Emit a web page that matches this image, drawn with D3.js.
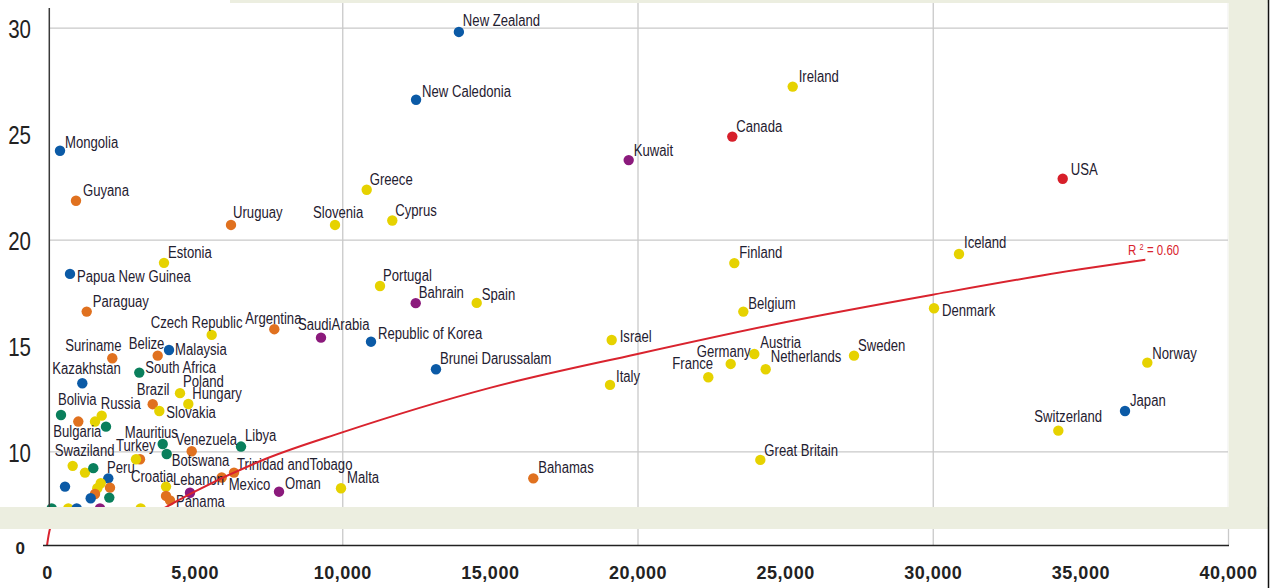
<!DOCTYPE html>
<html><head><meta charset="utf-8">
<script src="https://cdn.jsdelivr.net/npm/d3@7"></script>
<style>
html,body{margin:0;padding:0;background:#fff;}
svg{display:block;}
</style></head>
<body>
<svg id="chart" width="1274" height="588"></svg>
<script>
// ---------------- DATA ----------------
const countries = ["New Zealand","New Caledonia","Mongolia","Guyana","Ireland","Canada","Kuwait","USA","Greece","Uruguay","Slovenia","Cyprus","Estonia","Papua New Guinea","Finland","Iceland","Portugal","Bahrain","Spain","Paraguay","Belgium","Denmark","Czech Republic","Argentina","SaudiArabia","Republic of Korea","Brunei Darussalam","Israel","Italy","France","Germany","Austria","Netherlands","Sweden","Great Britain","Norway","Switzerland","Japan","Bahamas","Malta","Suriname","Belize","Malaysia","Kazakhstan","South Africa","Poland","Hungary","Brazil","Slovakia","Bolivia","Russia","","Bulgaria","","Mauritius","Botswana","Venezuela","Libya","Turkey","","Swaziland","","","","","Peru","","","","","","Croatia","","Panama","Lebanon","Mexico","Trinidad andTobago","Oman","","","","",""];
const gdp = [13950,12500,440,982,25257,23211,19702,34402,10828,6232,9755,11695,3963,779,23279,30889,11279,12488,14554,1345,23584,30043,5578,7699,9280,10974,13175,19126,19069,22398,23157,23956,24342,27333,24160,37267,34253,36512,16471,9958,2212,3749,4132,1196,3126,4505,4786,3580,3804,474,1853,1626,1060,1998,3919,4054,4901,6571,3150,3014,870,1287,1568,2076,1819,2134,1704,1626,1480,2110,610,4031,4031,4166,4843,5917,6334,7858,159,721,1006,1795,3174];
const rate = [29.8,26.6,24.19,21.83,27.22,24.86,23.75,22.87,22.35,20.69,20.69,20.9,18.9,18.38,18.89,19.32,17.81,17.0,17.01,16.6,16.6,16.76,15.5,15.77,15.37,15.18,13.88,15.26,13.14,13.5,14.13,14.6,13.88,14.52,9.6,14.19,10.98,11.91,8.73,8.26,14.4,14.52,14.79,13.22,13.72,12.75,12.24,12.23,11.91,11.72,11.69,11.41,11.41,11.17,10.35,9.88,10.01,10.23,9.63,9.63,9.32,9.0,9.21,8.73,8.5,8.29,8.26,7.99,7.79,7.82,8.34,8.34,7.9,7.69,8.05,8.77,9.0,8.1,7.31,7.31,7.31,7.31,7.31];
const regions = ["AP","AP","AP","LA","EU","NA","ME","NA","EU","LA","EU","EU","EU","AP","EU","EU","EU","ME","EU","LA","EU","EU","EU","LA","ME","AP","AP","EU","EU","EU","EU","EU","EU","EU","EU","EU","EU","AP","LA","EU","LA","LA","AP","AP","AF","EU","EU","LA","EU","AF","EU","EU","LA","AF","AF","AF","LA","AF","LA","EU","EU","EU","AF","AP","EU","LA","EU","LA","AP","AF","AP","EU","LA","LA","ME","LA","LA","ME","AF","EU","AP","ME","EU"];
const xTicks = [0,5000,10000,15000,20000,25000,30000,35000,40000];
const yTicks = [10,15,20,25,30];
const yGrid = [10,20,30];
const xGrid = [10000,20000,30000,40000];
// trend curve (R² = 0.60)
const trendX = [0,100,500,1000,2000,3000,5000,7500,10000,15000,20000,25000,30000,35000,37200];
const trendY = [0,1.5,3.1,4.1,5.5,6.5,8.1,9.7,10.9,13.0,14.6,16.1,17.4,18.6,19.05];
const r2Label = "0.60";

// ---------------- STYLE / LAYOUT ----------------
const regionColor = {AP:"#0b5aa6", LA:"#e0711f", EU:"#e6d200", AF:"#0a7f5c", NA:"#d71f2a", ME:"#8b1a7c"};
const labelOffset = {
 "New Zealand":[4,-6],"New Caledonia":[6,-3],"Mongolia":[5,-3],"Guyana":[7,-5],"Ireland":[6,-5],"Canada":[4,-5],
 "Kuwait":[5,-4],"USA":[8,-4],"Greece":[3,-5],"Uruguay":[2,-7],"Slovenia":[-22,-7],"Cyprus":[3,-4],"Estonia":[4,-5],
 "Papua New Guinea":[7,8],"Finland":[5,-5],"Iceland":[5,-6],"Portugal":[3,-5],"Bahrain":[3,-5],"Spain":[5,-3],
 "Paraguay":[6,-5],"Belgium":[5,-3],"Denmark":[8,8],"Czech Republic":[-61,-7],"Argentina":[-29,-5],"SaudiArabia":[-23,-8],
 "Republic of Korea":[7,-3],"Brunei Darussalam":[4,-5],"Israel":[8,2.5],"Italy":[6,-3],"France":[-36,-8],"Germany":[-34,-7],
 "Austria":[6,-6],"Netherlands":[5,-7],"Sweden":[4,-5],"Great Britain":[4,-4],"Norway":[5,-4],"Switzerland":[-24,-9],
 "Japan":[5,-5],"Bahamas":[5,-5],"Malta":[6,-5],"Suriname":[-47,-7],"Belize":[-29,-7],"Malaysia":[6,5],"Kazakhstan":[-30,-9],
 "South Africa":[6,0],"Poland":[3,-6],"Hungary":[4,-5],"Brazil":[-16,-9],"Slovakia":[7,7],"Bolivia":[-3,-10],"Russia":[-1,-7],
 "Bulgaria":[-25,15],"Mauritius":[-38,-6],"Botswana":[5,12],"Venezuela":[-16,-6],"Libya":[4,-6],"Turkey":[-24,-8],
 "Swaziland":[-18,-10],"Peru":[-3,-15],"Croatia":[-35,-5],"Panama":[6,7],"Lebanon":[-17,-8],"Mexico":[7,13],
 "Trinidad andTobago":[3,-3],"Oman":[6,-3]
};
const beige = "#eceee0";
const sans = "'Liberation Sans',Arial,sans-serif";
const squeeze = 0.82; // condensed look

const svg = d3.select("#chart");
const x = d3.scaleLinear().domain([0,40000]).range([47,1228]);
const y = d3.scaleLinear().domain([0,30]).range([663.3,27.7]);
const yLow = d3.scaleLinear().domain([0,1.5]).range([545.5,529]);

const defs = svg.append("defs");
defs.append("clipPath").attr("id","upper").append("rect").attr("x",0).attr("y",0).attr("width",1228).attr("height",507);
defs.append("clipPath").attr("id","lower").append("rect").attr("x",0).attr("y",529).attr("width",1228).attr("height",17);

// gridlines (upper)
const up = svg.append("g").attr("clip-path","url(#upper)");
up.append("g").attr("transform","translate(49,0)")
  .call(d3.axisLeft(y).tickValues(yGrid).tickSize(-1179).tickFormat(""))
  .call(g=>g.select(".domain").remove())
  .call(g=>g.selectAll("line").attr("stroke","#c9c9c9").attr("stroke-width",1.3));
up.append("g").attr("transform","translate(0,507)")
  .call(d3.axisTop(x).tickValues(xGrid).tickSize(504).tickFormat(""))
  .call(g=>g.select(".domain").remove())
  .call(g=>g.selectAll("line").attr("stroke","#c9c9c9").attr("stroke-width",1.3));
// lower gridlines
svg.append("g").attr("transform","translate(0,545)")
  .call(d3.axisTop(x).tickValues(xGrid).tickSize(16).tickFormat(""))
  .call(g=>g.select(".domain").remove())
  .call(g=>g.selectAll("line").attr("stroke","#c9c9c9").attr("stroke-width",1.3));

// y axis line
svg.append("line").attr("x1",49.3).attr("x2",49.3).attr("y1",8).attr("y2",507).attr("stroke","#3a3a3a").attr("stroke-width",1.5);

// data
const data = countries.map((c,i)=>({name:c, gdp:gdp[i], rate:rate[i], region:regions[i]}));

up.selectAll("circle.dot").data(data).join("circle").attr("class","dot")
  .attr("cx",d=>x(d.gdp)).attr("cy",d=>y(d.rate)).attr("r",5.2)
  .attr("fill",d=>regionColor[d.region]);

up.selectAll("g.lbl").data(data.filter(d=>d.name)).join("g").attr("class","lbl")
  .attr("transform",d=>{const o=labelOffset[d.name]||[5,-4];return `translate(${x(d.gdp)+o[0]},${y(d.rate)+o[1]}) scale(${squeeze},1)`;})
  .append("text")
  .attr("font-family",sans).attr("font-size",16).attr("fill","#1f2030")
  .text(d=>d.name);

// trend line
const trend = trendX.map((v,i)=>[v,trendY[i]]);
up.append("path").datum(trend)
  .attr("d",d3.line().x(d=>x(d[0])).y(d=>y(d[1])).curve(d3.curveMonotoneX))
  .attr("fill","none").attr("stroke","#d9232e").attr("stroke-width",2);
svg.append("g").attr("clip-path","url(#lower)").append("path").datum(trend)
  .attr("d",d3.line().x(d=>x(d[0])).y(d=>yLow(d[1])).curve(d3.curveMonotoneX))
  .attr("fill","none").attr("stroke","#d9232e").attr("stroke-width",2);

const r2 = svg.append("g").attr("transform",`translate(1128,255) scale(${squeeze},1)`)
  .append("text").attr("font-family",sans).attr("font-size",14).attr("fill","#d9232e");
r2.append("tspan").text("R");
r2.append("tspan").attr("dx",4).attr("dy",-5).attr("font-size",9).text("2");
r2.append("tspan").attr("dx",4).attr("dy",5).text("= "+r2Label);

// y tick labels (upper)
svg.append("g").attr("transform","translate(31,0)")
  .call(d3.axisLeft(y).tickValues(yTicks).tickSize(0).tickPadding(0))
  .call(g=>g.select(".domain").remove())
  .call(g=>g.selectAll("text").attr("font-family",sans).attr("font-size",25).attr("fill","#222")
        .attr("dy","0.4em").attr("transform",`scale(${squeeze},1)`));

// beige frame pieces
svg.append("rect").attr("x",230).attr("y",0).attr("width",1038).attr("height",3).attr("fill",beige);
svg.append("rect").attr("x",1228.5).attr("y",0).attr("width",39).attr("height",529).attr("fill",beige);
svg.append("rect").attr("x",0).attr("y",507).attr("width",1268).attr("height",22).attr("fill",beige);
svg.append("line").attr("x1",1268.5).attr("x2",1268.5).attr("y1",0).attr("y2",588).attr("stroke","#111").attr("stroke-width",1.5);

// lower x axis
svg.append("g").attr("transform","translate(0,545.5)")
  .call(d3.axisBottom(x).tickValues(xTicks).tickSize(0).tickPadding(0).tickFormat(d3.format(",")))
  .call(g=>g.select(".domain").attr("d","M43,0H1229").attr("stroke","#222").attr("stroke-width",1.5))
  .call(g=>g.selectAll("text").attr("dy",null).attr("y",33).attr("font-family",sans)
        .attr("font-weight","bold").attr("font-size",18).attr("letter-spacing","0.5px").attr("fill","#222"));

// lower y label "0"
svg.append("g").attr("transform","translate(25,0)")
  .call(d3.axisLeft(yLow).tickValues([0]).tickSize(0).tickPadding(0).tickFormat(d3.format("d")))
  .call(g=>g.select(".domain").remove())
  .call(g=>g.selectAll("text").attr("font-family",sans).attr("font-weight","bold")
        .attr("font-size",17).attr("fill","#222").attr("dy","0.45em"));
</script>
</body></html>
